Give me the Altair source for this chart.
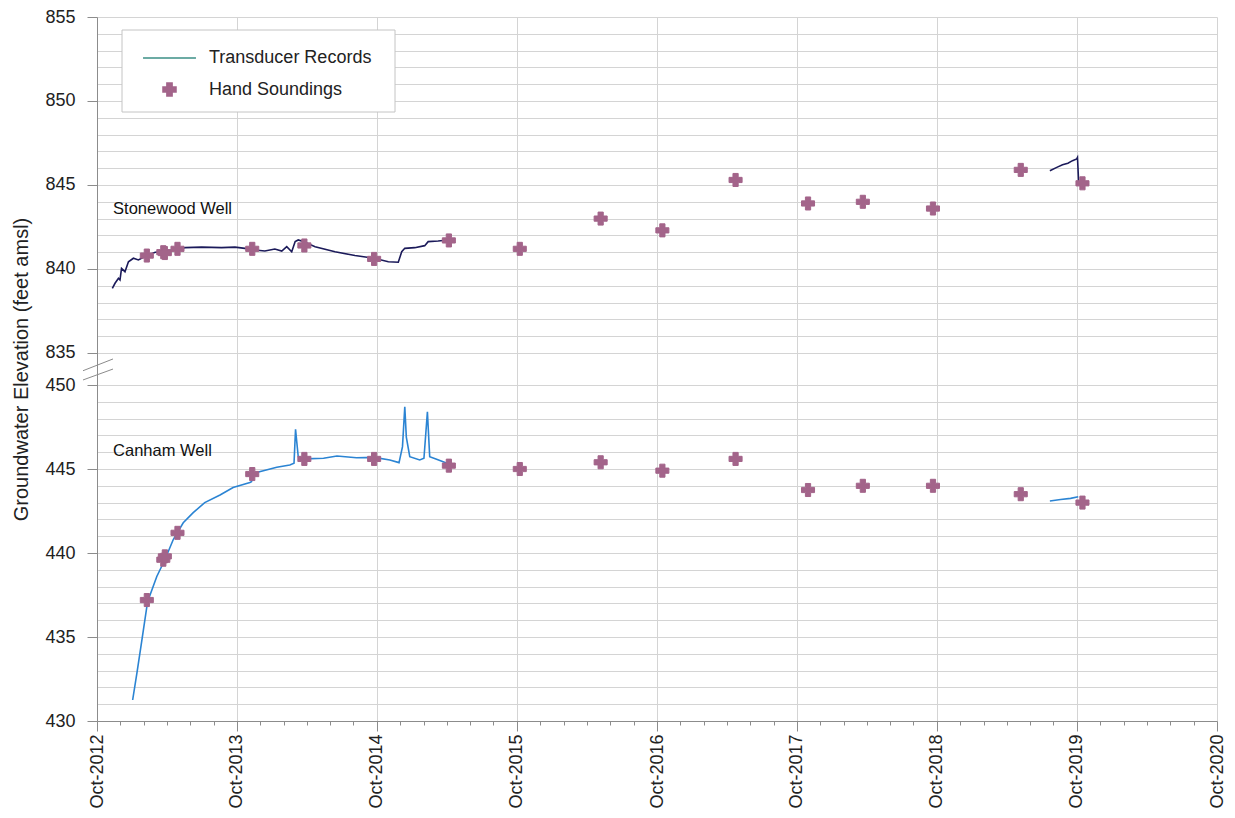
import altair as alt
import pandas as pd

# ---- Transducer records -------------------------------------------------
stone_dates = [
    "2012-11-10", "2012-11-17", "2012-11-26", "2012-11-30", "2012-12-04",
    "2012-12-13", "2012-12-22", "2013-01-04", "2013-01-17", "2013-02-08",
    "2013-03-02", "2013-03-23", "2013-04-14", "2013-05-19", "2013-07-01",
    "2013-08-22", "2013-09-26", "2013-10-22", "2013-11-17", "2013-12-13",
    "2014-01-08", "2014-01-26", "2014-02-08", "2014-02-21", "2014-03-02",
    "2014-03-10", "2014-03-23", "2014-04-23", "2014-06-14", "2014-08-05",
    "2014-09-24", "2014-10-31", "2014-11-26", "2014-12-05", "2014-12-13",
    "2015-01-08", "2015-02-03", "2015-02-12", "2015-03-10", "2015-04-05",
    "2019-07-23", "2019-08-10", "2019-08-25", "2019-09-08", "2019-09-20",
    "2019-10-01", "2019-10-03", "2019-10-06",
]
stone_elev = [
    838.85, 839.15, 839.45, 839.35, 840.04,
    839.84, 840.43, 840.64, 840.54, 840.80,
    841.00, 841.03, 841.13, 841.27, 841.30,
    841.27, 841.30, 841.23, 841.13, 841.07,
    841.19, 841.07, 841.33, 841.03, 841.63,
    841.73, 841.63, 841.33, 841.03, 840.80,
    840.64, 840.43, 840.40, 841.03, 841.23,
    841.27, 841.39, 841.63, 841.67, 841.73,
    845.85, 846.05, 846.20, 846.30, 846.45,
    846.55, 846.64, 845.20,
]
stone_seg = [1] * 40 + [2] * 8

canham_dates = [
    "2013-01-02", "2013-01-13", "2013-01-26", "2013-02-10", "2013-03-06",
    "2013-03-27", "2013-04-18", "2013-05-14", "2013-06-09", "2013-07-09",
    "2013-08-18", "2013-09-21", "2013-11-04", "2013-11-08", "2013-11-14",
    "2013-12-09", "2014-01-13", "2014-02-16", "2014-02-27", "2014-03-03",
    "2014-03-10", "2014-03-28", "2014-05-15", "2014-06-19", "2014-08-09",
    "2014-09-24", "2014-11-04", "2014-11-28", "2014-12-07", "2014-12-13",
    "2014-12-17", "2014-12-26", "2015-01-21", "2015-02-01", "2015-02-10",
    "2015-02-16", "2015-03-06", "2015-03-23", "2015-04-07",
    "2019-07-23", "2019-08-20", "2019-09-15", "2019-10-05",
]
canham_elev = [
    431.25, 432.84, 434.80, 437.10, 438.60,
    439.60, 440.80, 441.80, 442.40, 443.00,
    443.45, 443.90, 444.20, 444.25, 444.75,
    444.90, 445.10, 445.24, 445.34, 447.36,
    445.73, 445.60, 445.64, 445.77, 445.67,
    445.69, 445.54, 445.38, 446.33, 448.70,
    446.90, 445.73, 445.54, 445.64, 448.40,
    445.73, 445.58, 445.43, 445.30,
    443.10, 443.18, 443.25, 443.35,
]
canham_seg = [1] * 39 + [2] * 4

# ---- Hand soundings -----------------------------------------------------
sounding_dates = [
    "2013-02-08", "2013-03-23", "2013-03-27", "2013-04-29", "2013-11-10",
    "2014-03-26", "2014-09-24", "2015-04-07", "2015-10-09", "2016-05-07",
    "2016-10-15", "2017-04-24", "2017-10-30", "2018-03-22", "2018-09-21",
    "2019-05-08", "2019-10-16",
]
stone_sounding = [
    840.8, 841.0, 840.95, 841.2, 841.2,
    841.4, 840.6, 841.7, 841.2, 843.0,
    842.3, 845.3, 843.9, 844.0, 843.6,
    845.9, 845.1,
]
canham_sounding = [
    437.2, 439.6, 439.8, 441.2, 444.7,
    445.6, 445.6, 445.2, 445.0, 445.4,
    444.9, 445.6, 443.75, 444.0, 444.0,
    443.5, 443.0,
]

# ---- Well labels --------------------------------------------------------
well_names = ["Stonewood Well", "Canham Well"]
well_label_dates = ["2012-11-12", "2012-11-12"]
well_label_elev = [843.6, 446.1]
well_label_band = ["upper", "lower"]

legend_kinds = ["Transducer Records", "Hand Soundings"]

# Broken elevation axis: 430-450 on the bottom band, 835-855 on the top band,
# separated by a small gap.  Both bands share one linear position scale.
LOWER_MIN = 430
UPPER_MIN = 835
BAND = 20
GAP = 1.905
UPPER_BASE = BAND + GAP


def to_pos(values, band):
    if band == "upper":
        return [v - UPPER_MIN + UPPER_BASE for v in values]
    return [v - LOWER_MIN for v in values]


stone_df = pd.DataFrame({
    "date": pd.to_datetime(stone_dates),
    "elev": stone_elev,
    "pos": to_pos(stone_elev, "upper"),
    "seg": stone_seg,
})
canham_df = pd.DataFrame({
    "date": pd.to_datetime(canham_dates),
    "elev": canham_elev,
    "pos": to_pos(canham_elev, "lower"),
    "seg": canham_seg,
})
sound_df = pd.DataFrame({
    "date": pd.to_datetime(sounding_dates * 2),
    "elev": stone_sounding + canham_sounding,
    "pos": to_pos(stone_sounding, "upper") + to_pos(canham_sounding, "lower"),
    "kind": ["Hand Soundings"] * (2 * len(sounding_dates)),
})
label_df = pd.DataFrame({
    "date": pd.to_datetime(well_label_dates),
    "name": well_names,
    "pos": [to_pos([e], b)[0] for e, b in zip(well_label_elev, well_label_band)],
})
# two short slashes marking the axis break
break_df = pd.DataFrame({"y1": [20.30, 20.85], "y2": [20.95, 21.55]})

FONT = "Liberation Sans"
AXIS_GREY = "#8c8c8c"
GRID_GREY = "#d4d4d4"
TEXT = "#222222"

y_ticks = [float(k) for k in range(BAND + 1)] + [UPPER_BASE + k for k in range(BAND + 1)]
Y_TOP = y_ticks[-1]
real_val = (f"(datum.value < {BAND + 0.5} ? {LOWER_MIN} + round(datum.value)"
            f" : {UPPER_MIN} + round(datum.value - {UPPER_BASE}))")
major_test = f"{real_val} % 5 == 0"

# bi-monthly minor ticks, October carries the label and the grid line
x_ticks = []
for yr in range(2012, 2021):
    for m in [2, 4, 6, 8, 10, 12]:
        if (yr == 2012 and m < 10) or (yr == 2020 and m > 10):
            continue
        x_ticks.append(alt.DateTime(year=yr, month=m, date=1))

is_oct = "month(datum.value) == 9"

x_enc = alt.X(
    "date:T",
    scale=alt.Scale(
        domain=[alt.DateTime(year=2012, month=10, date=1), alt.DateTime(year=2020, month=10, date=1)],
        nice=False,
    ),
    axis=alt.Axis(
        values=x_ticks,
        tickCount=500,
        labelExpr=f"{is_oct} ? timeFormat(datum.value, '%b-%Y') : ''",
        labelAngle=270,
        labelOverlap=False,
        labelFont=FONT,
        labelFontSize=18,
        labelColor=TEXT,
        labelPadding=3,
        tickSize={"condition": {"test": is_oct, "value": 10}, "value": 4},
        tickColor=AXIS_GREY,
        domainColor=AXIS_GREY,
        grid=True,
        gridColor=GRID_GREY,
        gridOpacity={"condition": {"test": is_oct, "value": 1}, "value": 0},
        title=None,
    ),
)

y_enc = alt.Y(
    "pos:Q",
    scale=alt.Scale(domain=[0, Y_TOP], nice=False, zero=False),
    axis=alt.Axis(
        values=y_ticks,
        tickCount=500,
        labelExpr=f"{major_test} ? '' + {real_val} : ''",
        labelOverlap=False,
        labelFont=FONT,
        labelFontSize=18,
        labelColor=TEXT,
        labelPadding=12,
        tickSize=10,
        tickColor=AXIS_GREY,
        tickOpacity={"condition": {"test": major_test, "value": 1}, "value": 0},
        domainColor=AXIS_GREY,
        grid=True,
        gridColor=GRID_GREY,
        title="Groundwater Elevation (feet amsl)",
        titleFont=FONT,
        titleFontSize=20,
        titleFontWeight="normal",
        titleColor=TEXT,
        titleLimit=700,
        titleX=-76,
        titleBaseline="middle",
        titleAngle=270,
    ),
)

# white legend panel behind the legend entries
panel = alt.Chart(pd.DataFrame({"k": [0]})).mark_rect(
    fill="white", stroke="#c4c4c4", strokeWidth=1
).encode(x=alt.value(25), x2=alt.value(298), y=alt.value(13), y2=alt.value(95))

stone_line = alt.Chart(stone_df).mark_line(color="#1b1a5a", strokeWidth=1.6).encode(
    x=x_enc, y=y_enc, detail="seg:N"
)
canham_line = alt.Chart(canham_df).mark_line(color="#2b84d3", strokeWidth=1.6).encode(
    x=x_enc, y=y_enc, detail="seg:N"
)

legend = alt.Legend(
    title=None,
    orient="none",
    legendX=45,
    legendY=13.5,
    padding=0,
    rowPadding=12,
    labelFont=FONT,
    labelFontSize=18,
    labelColor=TEXT,
    labelOffset=12,
    labelLimit=400,
    symbolStrokeWidth=1.5,
)
kind_colors = ["#3b8f86", "#a3648a"]

points = alt.Chart(sound_df).mark_point(filled=True, opacity=1, strokeWidth=1).encode(
    x=x_enc,
    y=y_enc,
    color=alt.Color("kind:N", scale=alt.Scale(domain=legend_kinds, range=kind_colors), legend=legend),
    stroke=alt.Stroke("kind:N", scale=alt.Scale(domain=legend_kinds, range=kind_colors), legend=legend),
    shape=alt.Shape("kind:N", scale=alt.Scale(domain=legend_kinds, range=["stroke", "cross"]), legend=legend),
    size=alt.Size("kind:N", scale=alt.Scale(domain=legend_kinds, range=[2800, 170]), legend=legend),
)

labels = alt.Chart(label_df).mark_text(
    align="left", baseline="middle", font=FONT, fontSize=16.5, color="#111111"
).encode(x=x_enc, y=y_enc, text="name:N")

breaks = alt.Chart(break_df).mark_rule(color=AXIS_GREY, strokeWidth=1).encode(
    x=alt.value(-14), x2=alt.value(16), y=alt.Y("y1:Q"), y2="y2:Q"
)

chart = (
    alt.layer(panel, stone_line, canham_line, points, labels, breaks)
    .properties(
        width=1120,
        height=704,
        padding={"left": 97, "top": 17, "right": 18, "bottom": 97},
        autosize=alt.AutoSizeParams(type="none"),
        background="white",
    )
    .configure_view(stroke=None)
)

chart.save("out.html", embed_options={"renderer": "svg", "actions": False})
